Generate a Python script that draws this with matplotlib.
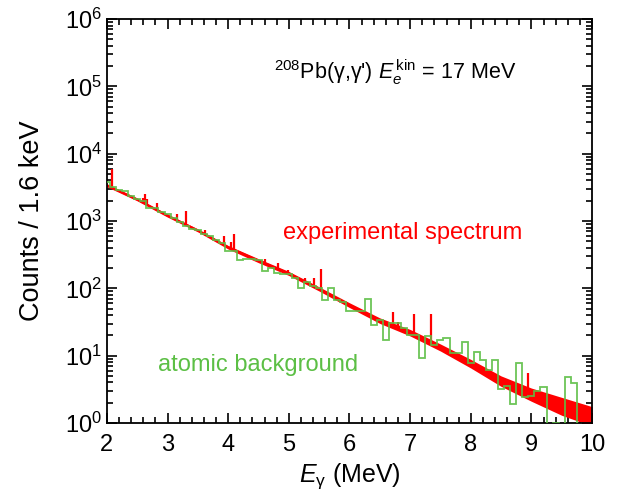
import numpy as np
import matplotlib
matplotlib.use('Agg')
import matplotlib.pyplot as plt
from matplotlib.ticker import MultipleLocator, LogLocator, NullFormatter

# --------- Schrift ------------
plt.rcParams['font.family'] = ['Liberation Sans', 'DejaVu Sans']
plt.rcParams['mathtext.fontset'] = 'custom'
plt.rcParams['mathtext.rm'] = 'Liberation Sans'
plt.rcParams['mathtext.it'] = 'Liberation Sans:italic'

# --------- Daten -------------------------------------
# experimentelles Spektrum: Verlauf und Rauschband
spek_E = [2.0, 2.5, 3.0, 3.5, 4.0, 4.5, 5.0, 5.5, 6.0, 6.5, 7.0, 7.5, 8.0, 8.5, 9.0, 9.5, 10.0]
spek_mitte = [3388, 2089, 1202, 724, 407, 257, 166, 97.7, 56.2, 33.1, 21.9, 13.2, 7.59, 4.17, 2.63, 1.82, 1.29]
spek_oben = [3560, 2190, 1265, 762, 432, 275, 178, 105, 61, 36.4, 24.5, 14.9, 8.8, 5.0, 3.3, 2.4, 1.75]
spek_unten = [3220, 1990, 1140, 688, 383, 240, 155, 91, 51.8, 30.1, 19.6, 11.7, 6.55, 3.5, 2.1, 1.3, 0.9]

# Linien (Peaks): Energie, Spitze, Fuss
peak_E = [2.09, 2.60, 2.63, 2.66, 2.83, 3.16, 3.30, 3.62, 3.93, 4.05, 4.09, 4.61, 4.82, 4.99,
          5.27, 5.42, 5.53, 6.72, 6.80, 7.06, 7.34, 8.95]
peak_oben = [6000, 2200, 2500, 2100, 1860, 1260, 1400, 740, 600, 490, 645, 270, 240, 186,
             142, 142, 192, 45, 32, 41, 41, 5.5]
peak_fuss = [3090, 1860, 1820, 1780, 1480, 1020, 890, 630, 440, 390, 372, 232, 195, 166,
             123, 107, 91, 27.5, 25.7, 20.4, 15.5, 2.7]

# atomarer Untergrund: Histogramm, Bins 0.1 MeV, Mitten 2.0 ... 10.0
bg_kanten = np.round(np.arange(1.95, 10.06, 0.1), 2)
bg_log = [3.58, 3.50, 3.46, 3.44, 3.37, 3.33, 3.29, 3.20, 3.19, 3.14,
          3.11, 3.05, 2.99, 2.93, 2.88, 2.86, 2.80, 2.77, 2.72, 2.68,
          2.56, 2.56, 2.42, 2.44, 2.43, 2.42, 2.26, 2.30, 2.23, 2.21,
          2.21, 2.16, 2.00, 2.09, 2.04, 2.00, 1.83, 2.01, 1.82, 1.80,
          1.66, 1.66, 1.66, 1.84, 1.46, 1.53, 1.23, 1.48, 1.49, 1.41,
          1.31, 1.31, 0.97, 1.29, 1.16, 1.23, 1.26, 1.04, 1.04, 1.21,
          0.89, 1.05, 0.94, 0.79, 0.94, 0.50, 0.55, 0.28, 0.89, 0.38,
          0.40, 0.47, 0.54, -0.3, 0.0, -0.3, 0.68, 0.60, -0.3, -0.3,
          -0.3]
bg_counts = 10.0 ** np.array(bg_log)

rot = '#ff0000'
gruen = '#5cbf45'

# ======================================== Plot =================================
fig = plt.figure(figsize=(6.18, 4.95), dpi=100)
ax = fig.add_axes([0.173, 0.1455, 0.785, 0.8161])

ax.fill_between(spek_E, spek_unten, spek_oben, color=rot, lw=0, zorder=2)
ax.plot(spek_E, spek_mitte, color=rot, lw=1.5, zorder=2)
ax.vlines(peak_E, peak_fuss, peak_oben, color=rot, lw=1.6, zorder=2)
ax.stairs(bg_counts, bg_kanten, baseline=None, color=gruen, lw=1.3, alpha=0.9, zorder=3)

ax.set_yscale('log')
ax.set_xlim(2, 10)
ax.set_ylim(1, 1e6)

ax.xaxis.set_major_locator(MultipleLocator(1))
ax.xaxis.set_minor_locator(MultipleLocator(0.2))
ax.yaxis.set_major_locator(LogLocator(base=10, numticks=10))
ax.yaxis.set_minor_locator(LogLocator(base=10, subs=np.arange(2, 10), numticks=10))
ax.yaxis.set_minor_formatter(NullFormatter())

ax.tick_params(which='both', direction='in', top=True, right=True, width=1.2, labelsize=17)
ax.tick_params(which='major', length=7)
ax.tick_params(which='minor', length=4)
ax.tick_params(axis='x', pad=8)
for s in ax.spines.values():
    s.set_linewidth(1.3)

ax.set_xlabel(r'$E_{\mathrm{γ}}$ (MeV)', fontsize=18, labelpad=4)
ax.set_ylabel('Counts / 1.6 keV', fontsize=19.5, labelpad=14)

ax.text(6.75, 1.6e5, r"$^{208}$Pb(γ,γ') $E_e^{\,\mathrm{kin}}$ = 17 MeV",
        fontsize=15.5, ha='center', va='center')
ax.text(6.88, 660, 'experimental spectrum', color=rot, fontsize=17, ha='center', va='center')
ax.text(4.49, 7.3, 'atomic background', color=gruen, fontsize=17, ha='center', va='center')

fig.savefig('out.png', dpi=100)
